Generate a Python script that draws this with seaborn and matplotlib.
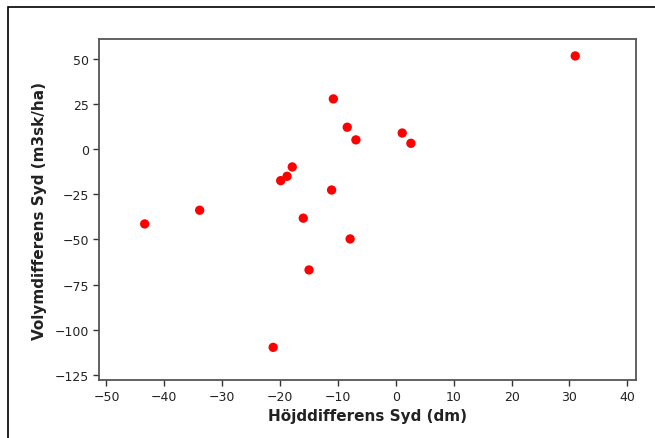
import matplotlib
matplotlib.use("Agg")
import matplotlib.pyplot as plt
import pandas as pd
import seaborn as sns
from matplotlib.patches import Rectangle

# height difference (dm) and volume difference (m3sk/ha), region Syd
hojd_diff = [31.0, -43.4, -33.9, -10.8, -8.4, -6.9, 1.1, 2.6, -17.9,
             -18.8, -19.9, -11.1, -16.0, -7.9, -15.0, -21.2]
volym_diff = [51.7, -41.4, -33.8, 27.9, 12.2, 5.2, 9.0, 3.3, -9.8,
              -15.0, -17.4, -22.6, -38.2, -49.7, -66.9, -109.8]

x_ticks = [-50, -40, -30, -20, -10, 0, 10, 20, 30, 40]
y_ticks = [50, 25, 0, -25, -50, -75, -100, -125]

df = pd.DataFrame({"hojd": hojd_diff, "volym": volym_diff})

sns.set_style("white")
plt.rcParams["font.family"] = ["DejaVu Sans"]

fig = plt.figure(figsize=(6.55, 4.39), dpi=100)
ax = fig.add_axes([0.1511, 0.1321, 0.8199, 0.7768])

# outer frame (cut at right/bottom edge like the original)
fig.patches.append(Rectangle((8 / 655, -0.1), 1.2, 1.1 - 8 / 439,
                             transform=fig.transFigure, fill=False,
                             edgecolor="black", linewidth=1.2))

sns.scatterplot(data=df, x="hojd", y="volym", color="#ff0000", s=45,
                edgecolor="none", ax=ax)

ax.set_xlim(-51.3, 41.5)
ax.set_ylim(-127.9, 61.1)
ax.set_xticks(x_ticks)
ax.set_yticks(y_ticks)
ax.tick_params(axis="both", direction="out", length=4, width=1,
               labelsize=9, color="#333333", labelcolor="#222222",
               bottom=True, left=True, top=False, right=False, pad=3)
for side, sp in ax.spines.items():
    sp.set_visible(True)
    sp.set_color("#555555")
    sp.set_linewidth(1.3)

ax.set_xlabel("Höjddifferens Syd (dm)", fontsize=11, fontweight="bold",
              color="#222222", labelpad=4)
ax.set_ylabel("Volymdifferens Syd (m3sk/ha)", fontsize=11,
              fontweight="bold", color="#222222", labelpad=6)

fig.savefig("out.png", dpi=100)
